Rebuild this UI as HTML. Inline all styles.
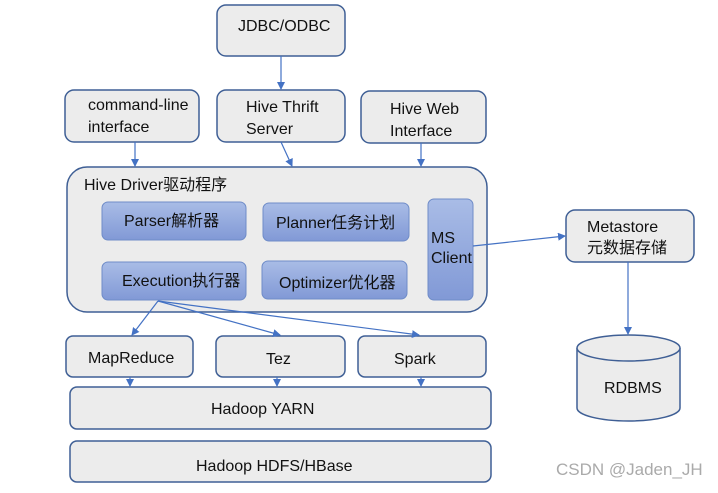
<!DOCTYPE html>
<html><head><meta charset="utf-8"><style>
body{margin:0;background:#fff;}
text{font-family:"Liberation Sans","Noto Sans CJK SC",sans-serif;font-size:16px;fill:#111;}
</style></head><body>
<svg width="718" height="488" xmlns="http://www.w3.org/2000/svg">
<defs>
<linearGradient id="b" x1="0" y1="0" x2="0" y2="1"><stop offset="0" stop-color="#a9bce6"/><stop offset="1" stop-color="#8199d6"/></linearGradient>
<marker id="a" markerWidth="8" markerHeight="8" refX="7" refY="4" orient="auto" markerUnits="userSpaceOnUse"><path d="M0,0 L8,4 L0,8 Z" fill="#4472c4"/></marker>
</defs>
<g fill="#ececec" stroke="#3f5f95" stroke-width="1.5">
<rect x="217" y="5" width="128" height="51" rx="9"/>
<rect x="65" y="90" width="134" height="52" rx="9"/>
<rect x="217" y="90" width="128" height="52" rx="9"/>
<rect x="361" y="91" width="125" height="52" rx="9"/>
<rect x="67" y="167" width="420" height="145" rx="20"/>
<rect x="566" y="210" width="128" height="52" rx="9"/>
<rect x="66" y="336" width="127" height="41" rx="7"/>
<rect x="216" y="336" width="129" height="41" rx="7"/>
<rect x="358" y="336" width="128" height="41" rx="7"/>
<rect x="70" y="387" width="421" height="42" rx="7"/>
<rect x="70" y="441" width="421" height="41" rx="7"/>
<path d="M577,348 L577,408 A51.5,13 0 0 0 680,408 L680,348"/>
<ellipse cx="628.5" cy="348" rx="51.5" ry="13"/>
</g>
<g fill="url(#b)" stroke="#6f8cc8" stroke-width="1">
<rect x="102" y="202" width="144" height="38" rx="6"/>
<rect x="263" y="203" width="146" height="38" rx="6"/>
<rect x="428" y="199" width="45" height="101" rx="6"/>
<rect x="102" y="262" width="144" height="38" rx="6"/>
<rect x="262" y="261" width="145" height="38" rx="6"/>
</g>
<g stroke="#4472c4" stroke-width="1.2" fill="none" marker-end="url(#a)">
<line x1="281" y1="56" x2="281" y2="89"/>
<line x1="135" y1="142" x2="135" y2="166"/>
<line x1="281" y1="142" x2="292" y2="166"/>
<line x1="421" y1="143" x2="421" y2="166"/>
<line x1="473" y1="246" x2="565" y2="236"/>
<line x1="628" y1="262" x2="628" y2="334"/>
<line x1="158" y1="301" x2="132" y2="335"/>
<line x1="158" y1="301" x2="280" y2="335"/>
<line x1="158" y1="301" x2="419" y2="335"/>
<line x1="130" y1="377" x2="130" y2="386"/>
<line x1="277" y1="377" x2="277" y2="386"/>
<line x1="421" y1="377" x2="421" y2="386"/>
</g>
<text x="238" y="31">JDBC/ODBC</text>
<text x="88" y="110">command-line</text>
<text x="88" y="132">interface</text>
<text x="246" y="112">Hive Thrift</text>
<text x="246" y="134">Server</text>
<text x="390" y="114">Hive Web</text>
<text x="390" y="136">Interface</text>
<text x="84" y="190">Hive Driver驱动程序</text>
<text x="124" y="226">Parser解析器</text>
<text x="276" y="228">Planner任务计划</text>
<text x="431" y="243">MS</text>
<text x="431" y="263">Client</text>
<text x="122" y="286">Execution执行器</text>
<text x="279" y="288">Optimizer优化器</text>
<text x="587" y="232">Metastore</text>
<text x="587" y="253">元数据存储</text>
<text x="604" y="393">RDBMS</text>
<text x="88" y="363">MapReduce</text>
<text x="266" y="364">Tez</text>
<text x="394" y="364">Spark</text>
<text x="211" y="414">Hadoop YARN</text>
<text x="196" y="471">Hadoop HDFS/HBase</text>
<text x="556" y="475" style="fill:#aaa;font-size:17px">CSDN @Jaden_JH</text>
</svg>
</body></html>
